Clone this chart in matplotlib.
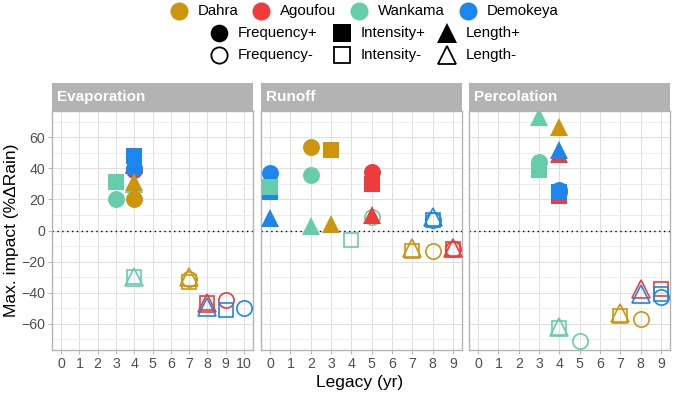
import matplotlib.pyplot as plt
from matplotlib.lines import Line2D

plt.rcParams['font.family'] = ['Liberation Sans', 'DejaVu Sans']

sites = ["Dahra", "Agoufou", "Wankama", "Demokeya"]
site_colors = ["#CD950C", "#EE3B3B", "#66CDAA", "#1C86EE"]
measures = ["Frequency+", "Intensity+", "Length+", "Frequency-", "Intensity-", "Length-"]
panels = ["Evaporation", "Runoff", "Percolation"]

# Evaporation
evap_site = ["Wankama", "Wankama", "Wankama", "Agoufou", "Agoufou", "Demokeya", "Demokeya", "Demokeya",
             "Dahra", "Dahra",
             "Wankama", "Wankama", "Dahra", "Dahra", "Dahra",
             "Agoufou", "Agoufou", "Agoufou", "Demokeya", "Demokeya", "Demokeya"]
evap_measure = ["Frequency+", "Intensity+", "Length+", "Frequency+", "Length+", "Frequency+", "Length+", "Intensity+",
                "Frequency+", "Length+",
                "Intensity-", "Length-", "Frequency-", "Intensity-", "Length-",
                "Intensity-", "Length-", "Frequency-", "Length-", "Intensity-", "Frequency-"]
evap_legacy = [3, 3, 4, 4, 4, 4, 4, 4,
               4, 4,
               4, 4, 7, 7, 7,
               8, 8, 9, 8, 9, 10]
evap_impact = [20, 31, 30, 39, 42, 40, 43, 48,
               20, 31,
               -30, -30, -31, -33, -30,
               -47, -47, -45, -49, -51, -50]

# Runoff
run_site = ["Demokeya", "Demokeya", "Wankama", "Demokeya",
            "Dahra", "Dahra", "Wankama", "Wankama", "Dahra",
            "Wankama", "Agoufou", "Agoufou", "Agoufou",
            "Wankama", "Demokeya", "Demokeya", "Demokeya",
            "Dahra", "Dahra", "Dahra", "Agoufou", "Agoufou", "Agoufou"]
run_measure = ["Frequency+", "Intensity+", "Intensity+", "Length+",
               "Frequency+", "Intensity+", "Frequency+", "Length+", "Length+",
               "Frequency-", "Frequency+", "Intensity+", "Length+",
               "Intensity-", "Frequency-", "Intensity-", "Length-",
               "Intensity-", "Length-", "Frequency-", "Frequency-", "Intensity-", "Length-"]
run_legacy = [0, 0, 0, 0,
              2, 3, 2, 2, 3,
              5, 5, 5, 5,
              4, 8, 8, 8,
              7, 7, 8, 9, 9, 9]
run_impact = [37, 25, 28, 8,
              54, 52, 36, 3, 4,
              9, 38, 30, 10,
              -6, 7, 7, 9,
              -13, -11, -13, -12, -12, -11]

# Percolation
perc_site = ["Wankama", "Dahra", "Agoufou", "Demokeya",
             "Wankama", "Wankama", "Agoufou", "Agoufou", "Demokeya", "Demokeya",
             "Agoufou", "Demokeya", "Agoufou", "Demokeya", "Demokeya",
             "Dahra", "Dahra", "Dahra", "Wankama", "Wankama", "Wankama"]
perc_measure = ["Length+", "Length+", "Length+", "Length+",
                "Frequency+", "Intensity+", "Intensity+", "Frequency+", "Frequency+", "Intensity+",
                "Length-", "Length-", "Intensity-", "Intensity-", "Frequency-",
                "Intensity-", "Length-", "Frequency-", "Intensity-", "Length-", "Frequency-"]
perc_legacy = [3, 4, 4, 4,
               3, 3, 4, 4, 4, 4,
               8, 8, 9, 9, 9,
               7, 7, 8, 4, 4, 5]
perc_impact = [73, 67, 49, 52,
               44, 39, 22, 25, 26, 25,
               -38, -41, -38, -41, -43,
               -55, -53, -57, -63, -62, -71]

panel_data = [(evap_site, evap_measure, evap_legacy, evap_impact),
              (run_site, run_measure, run_legacy, run_impact),
              (perc_site, perc_measure, perc_legacy, perc_impact)]
panel_xmax = [10, 9, 9]

marker_of = {"Frequency": "o", "Intensity": "s", "Length": "^"}
size_of = {"o": 12.2, "s": 11.8, "^": 13.5}

W, H = 674, 394
fig = plt.figure(figsize=(W / 100, H / 100), dpi=100)

lefts = [52, 261, 469]
pw = 201
top, bottom = 111, 350
strip_h = 28

for i, name in enumerate(panels):
    ax = fig.add_axes([lefts[i] / W, (H - bottom) / H, pw / W, (bottom - top) / H])
    xmax = panel_xmax[i]
    ax.set_xlim(-0.05 * xmax, xmax * 1.05)
    ax.set_ylim(-77, 77)
    ax.set_xticks(range(0, xmax + 1))
    ax.set_yticks([-60, -40, -20, 0, 20, 40, 60])
    ax.set_yticks([-70, -50, -30, -10, 10, 30, 50, 70], minor=True)
    ax.grid(True, which='major', color='#DEDEDE', linewidth=0.7)
    ax.grid(True, which='minor', axis='y', color='#E8E8E8', linewidth=0.5)
    ax.set_axisbelow(True)
    for sp in ax.spines.values():
        sp.set_color('#B3B3B3')
        sp.set_linewidth(1.0)
    ax.tick_params(axis='both', which='major', colors='#B3B3B3', length=3, width=0.7,
                   labelcolor='#4D4D4D', labelsize=10.2, pad=2)
    ax.tick_params(axis='y', which='minor', length=0)
    if i > 0:
        ax.tick_params(axis='y', labelleft=False, length=0)
    ax.axhline(0, color='black', linestyle=(0, (1, 2.5)), linewidth=1.0, zorder=1)

    s_list, m_list, x_list, y_list = panel_data[i]
    for s, m, x, y in zip(s_list, m_list, x_list, y_list):
        col = site_colors[sites.index(s)]
        mk = marker_of[m[:-1]]
        if m.endswith("+"):
            ax.plot(x, y, marker=mk, markersize=size_of[mk], color=col,
                    markeredgewidth=0, linestyle='none', zorder=3)
        else:
            ax.plot(x, y, marker=mk, markersize=size_of[mk] - 1.2, color=col,
                    markerfacecolor='none', markeredgewidth=1.2, linestyle='none', zorder=3)

    sax = fig.add_axes([lefts[i] / W, (H - top) / H, pw / W, strip_h / H])
    sax.set_facecolor('#B3B3B3')
    sax.set_xticks([])
    sax.set_yticks([])
    for sp in sax.spines.values():
        sp.set_visible(False)
    sax.text(5 / pw, 0.5, name, color='white', fontweight='bold', fontsize=11,
             ha='left', va='center', transform=sax.transAxes)

fig.text(360 / W, 1 - 383 / H, "Legacy (yr)", ha='center', va='center', fontsize=12.5)
fig.text(12 / W, 1 - 230 / H, "Max. impact (%ΔRain)", ha='center', va='center',
         rotation=90, fontsize=12.5)

# legend drawn in pixel coordinates
lax = fig.add_axes([0, 0, 1, 1], facecolor='none')
lax.set_xlim(0, W)
lax.set_ylim(H, 0)
lax.axis('off')
site_mark_x = [179, 261, 359, 468]
for k, s in enumerate(sites):
    lax.plot(site_mark_x[k], 11, marker='o', markersize=13, color=site_colors[k],
             markeredgewidth=0, linestyle='none')
    lax.text(site_mark_x[k] + 19, 11, s, ha='left', va='center', fontsize=10.8)
shape_mark_x = [219, 342, 447]
for k, m in enumerate(measures):
    col_i = k % 3
    row_y = 33 if m.endswith("+") else 55
    mk = marker_of[m[:-1]]
    xk = shape_mark_x[col_i]
    if m.endswith("+"):
        lax.plot(xk, row_y, marker=mk, markersize=size_of[mk] + 0.5, color='black',
                 markeredgewidth=0, linestyle='none')
    else:
        lax.plot(xk, row_y, marker=mk, markersize=size_of[mk] - 0.5, color='black',
                 markerfacecolor='none', markeredgewidth=1.3, linestyle='none')
    lax.text(xk + 19, row_y, m, ha='left', va='center', fontsize=10.8)

fig.savefig("out.png", dpi=100)
